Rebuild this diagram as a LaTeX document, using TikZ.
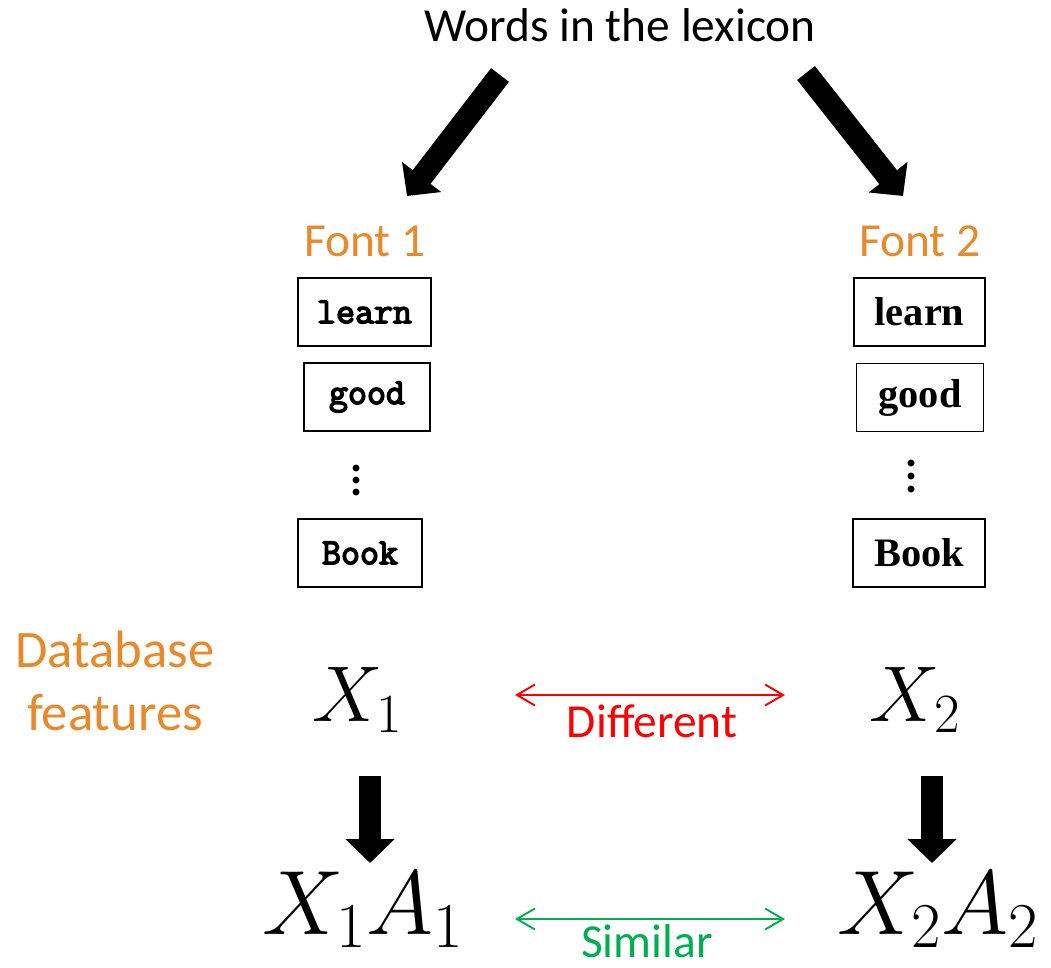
\RequirePackage{fix-cm}
\documentclass[tikz,border=0pt]{standalone}
\usepackage[no-math]{fontspec}
\usepackage{xcolor}
\usetikzlibrary{arrows.meta,positioning}
\newfontfamily\calibri{Carlito}
\newfontfamily\courfont{Latin Modern Mono}[FakeBold=4]
\newfontfamily\timesfont{Liberation Serif}
\definecolor{lexorange}{RGB}{234,137,42}
\definecolor{simgreen}{RGB}{0,176,80}
\definecolor{diffred}{RGB}{255,0,0}
\tikzset{
  heading/.style={font=\calibri\fontsize{27}{32}\selectfont,anchor=base,inner sep=0pt},
  fontname/.style={heading,color=lexorange},
  dbname/.style={font=\calibri\fontsize{30}{35.3}\selectfont,color=lexorange,
    align=center,anchor=base,inner sep=0pt},
  wordbox/.style={rectangle,draw,line width=0.9pt,inner sep=0pt,
    minimum height=1.36cm},
  monoword/.style={wordbox,font=\courfont\fontsize{21}{25}\selectfont},
  serifword/.style={wordbox,font=\timesfont\bfseries\fontsize{23}{27}\selectfont},
  featsmall/.style={font=\fontsize{45}{52}\selectfont,anchor=base,inner sep=0pt},
  featbig/.style={font=\fontsize{52}{58}\selectfont,anchor=base,inner sep=0pt},
  bigarrow/.style={line width=0.45cm,-{Triangle[length=0.48cm,width=0.96cm]}},
  relarrow/.style={line width=1.1pt,
    {Straight Barb[length=0.36cm,width=0.42cm]}-{Straight Barb[length=0.36cm,width=0.42cm]}},
  relname/.style={heading}
}
\begin{document}
\begin{tikzpicture}[x=0.02cm,y=-0.02cm]
  \useasboundingbox (0,0) rectangle (1051,967);

  \node[heading] (lex) at (620,41) {Words in the lexicon};
  \node[fontname] (f1) at (365,256) {Font 1};
  \node[fontname] (f2) at (920,256) {Font 2};

  \coordinate (s1) at (500,75);  \coordinate (t1) at (407,196);
  \coordinate (s2) at (806,73);  \coordinate (t2) at (903,196);
  \draw[bigarrow] (s1) -- (t1);
  \draw[bigarrow] (s2) -- (t2);

  % rendered words, font 1
  \node[monoword,minimum width=2.66cm] (learn1) at (364.5,312) {learn};
  \node[monoword,minimum width=2.52cm] (good1)  at (367,397)   {good};
  \node[monoword,minimum width=2.48cm] (book1)  at (360,553)   {Book};
  \foreach \y in {468,480,492}
    \fill (356,\y) circle[radius=0.07cm];

  % rendered words, font 2
  \node[serifword,minimum width=2.62cm] (learn2) at (919.5,312) {learn};
  \node[serifword,minimum width=2.54cm] (good2)  at (920,397.5) {good};
  \node[serifword,minimum width=2.64cm] (book2)  at (919,553)   {Book};
  \foreach \y in {463,476,489}
    \fill (911,\y) circle[radius=0.07cm];

  \node[dbname] (db) at (115,730) {Database\\features};

  % features and mapped features
  \node[featsmall] (x1) at (358,721) {$X_1$};
  \node[featsmall] (x2) at (915,721) {$X_2$};
  \node[featbig] (xa1) at (363,934) {$X_1A_1$};
  \node[featbig] (xa2) at (938,934) {$X_2A_2$};

  \coordinate (m1) at (370,776);  \coordinate (n1) at (370,863);
  \coordinate (m2) at (932,776);  \coordinate (n2) at (932,863);
  \draw[bigarrow] (m1) -- (n1);
  \draw[bigarrow] (m2) -- (n2);

  \coordinate (d1) at (515,695);  \coordinate (d2) at (785,695);
  \coordinate (e1) at (515,919);  \coordinate (e2) at (785,919);
  \draw[relarrow,diffred] (d1) -- (d2);
  \draw[relarrow,simgreen] (e1) -- (e2);
  \node[relname,diffred] (diff) at (652,737) {Different};
  \node[relname,simgreen] (sim) at (647,957) {Similar};
\end{tikzpicture}
\end{document}
